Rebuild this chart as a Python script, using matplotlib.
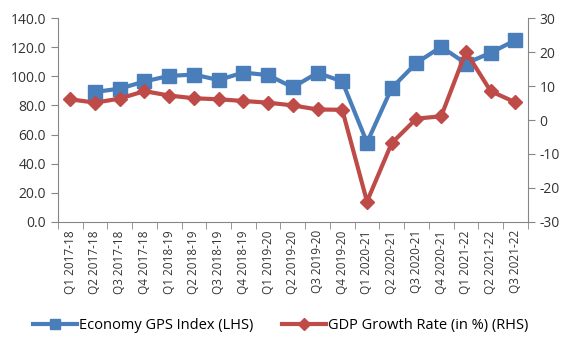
import matplotlib
matplotlib.use("Agg")
import matplotlib.pyplot as plt
import numpy as np

# 数据
quarters = ["Q1 2017-18", "Q2 2017-18", "Q3 2017-18", "Q4 2017-18",
            "Q1 2018-19", "Q2 2018-19", "Q3 2018-19", "Q4 2018-19",
            "Q1 2019-20", "Q2 2019-20", "Q3 2019-20", "Q4 2019-20",
            "Q1 2020-21", "Q2 2020-21", "Q3 2020-21", "Q4 2020-21",
            "Q1 2021-22", "Q2 2021-22", "Q3 2021-22"]
gps_index = [np.nan, 89.3, 91.5, 96.5, 100.3, 101.2, 97.5, 102.6,
             100.8, 92.5, 102.4, 96.5, 54.5, 92.0, 109.2, 120.3,
             108.8, 116.2, 124.8]
gdp_growth = [6.1, 5.1, 6.3, 8.5, 7.2, 6.4, 6.1, 5.6,
              5.1, 4.3, 3.1, 3.0, -24.0, -6.8, 0.4, 1.1,
              20.1, 8.5, 5.2]

blue = "#4A7EBB"
red = "#BE4B48"
axis_col = "#868686"
plt.rcParams['font.family'] = ['Open Sans', 'DejaVu Sans']
plt.rcParams['axes.unicode_minus'] = False

fig = plt.figure(figsize=(5.73, 3.62), dpi=100)
ax = fig.add_axes([0.101, 0.387, 0.820, 0.563])
ax2 = ax.twinx()

x = np.arange(len(quarters))
l1, = ax.plot(x, gps_index, color=blue, lw=3, marker="s", ms=10,
              label="Economy GPS Index (LHS)", zorder=3)
l2, = ax2.plot(x, gdp_growth, color=red, lw=3, marker="D", ms=7.5,
               label="GDP Growth Rate (in %) (RHS)", zorder=3)

ax.set_xlim(-0.5, len(quarters) - 0.5)
ax.set_ylim(0, 140)
ax.set_yticks(np.arange(0, 141, 20))
ax.set_yticklabels([f"{v:.1f}" for v in np.arange(0, 141, 20)])
ax2.set_ylim(-30, 30)
ax2.set_yticks(np.arange(-30, 31, 10))

ax.set_xticks(x)
ax.set_xticklabels(quarters, rotation=90, fontsize=8.5)
ax.set_xticks(np.arange(-0.5, len(quarters)), minor=True)
ax.tick_params(axis="x", which="major", length=0, pad=6)
ax.tick_params(axis="x", which="minor", length=5, color=axis_col, direction="out")

for a in (ax, ax2):
    a.spines["top"].set_visible(False)
    for s in ("left", "right", "bottom"):
        a.spines[s].set_color(axis_col)
    a.tick_params(axis="y", length=5, color=axis_col, labelsize=10, colors="#333333")
ax.spines["right"].set_visible(False)
ax2.spines["left"].set_visible(False)
ax2.spines["bottom"].set_visible(False)
ax.tick_params(axis="x", colors="#333333")
ax.tick_params(axis="x", which="minor", color=axis_col)

fig.legend([l1, l2], [l1.get_label(), l2.get_label()], loc="center",
           bbox_to_anchor=(0.49, 0.1), ncol=2, frameon=False, fontsize=10.5,
           handlelength=3, columnspacing=2.0, handletextpad=0.15, markerscale=0.75)

fig.savefig("out.png", dpi=100)
